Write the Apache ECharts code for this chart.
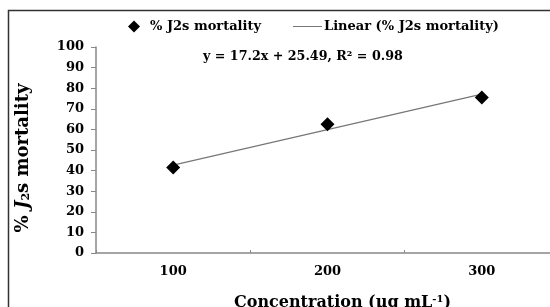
<!DOCTYPE html>
<html><head><meta charset="utf-8">
<script src="https://cdn.jsdelivr.net/npm/echarts@6/dist/echarts.min.js"></script>
<style>html,body{margin:0;padding:0;background:#fff}#c{width:550px;height:307px}</style>
</head><body><div id="c"></div>
<script>
var categories = ['100', '200', '300'];
var mortality = [41.5, 62.5, 75.5];
var trendValues = [42.69, 59.89, 77.09];
var yTicks = {min: 0, max: 100, interval: 10};
var equationText = 'y = 17.2x + 25.49, R² = 0.98';

var serif = '"DejaVu Serif", "Liberation Serif", serif';
var chart = echarts.init(document.getElementById('c'));
chart.setOption({
  animation: false,
  backgroundColor: '#fff',
  textStyle: {fontFamily: serif},
  grid: {left: 96, top: 47, width: 463, height: 206, containLabel: false, outerBoundsMode: 'none'},
  legend: [
    {
      left: 123, top: 15, itemWidth: 12, itemHeight: 12,
      textStyle: {fontFamily: serif, fontWeight: 'bold', fontSize: 13, color: '#000', padding: [0, 0, 0, 5]},
      data: [{name: '% J2s mortality', icon: 'diamond', itemStyle: {color: '#000', opacity: 1}}]
    },
    {
      left: 288, top: 15, itemWidth: 29, itemHeight: 1,
      textStyle: {fontFamily: serif, fontWeight: 'bold', fontSize: 13, color: '#000', padding: [0, 0, 0, -3]},
      data: [{name: 'Linear (% J2s mortality)', icon: 'rect'}]
    }
  ],
  xAxis: {
    type: 'category', data: categories, boundaryGap: true,
    axisLine: {lineStyle: {color: '#888', width: 1.5}},
    axisTick: {show: true, inside: true, length: 3, lineStyle: {color: '#888'}},
    axisLabel: {margin: 12, fontFamily: serif, fontWeight: 'bold', fontSize: 13, color: '#000'},
    name: '{a|Concentration (µg mL}{s|-1}{a|)}',
    nameLocation: 'middle', nameGap: 41,
    nameTextStyle: {
      padding: [0, 0, 0, 30],
      rich: {
        a: {fontFamily: serif, fontWeight: 'bold', fontSize: 16, color: '#000'},
        s: {fontFamily: serif, fontWeight: 'bold', fontSize: 10, color: '#000', verticalAlign: 'top', padding: [0, 0, 8, 0]}
      }
    }
  },
  yAxis: {
    type: 'value', min: yTicks.min, max: yTicks.max, interval: yTicks.interval,
    splitLine: {show: false},
    axisLine: {show: true, lineStyle: {color: '#888', width: 1.5}},
    axisTick: {show: true, length: 5, lineStyle: {color: '#888'}},
    axisLabel: {margin: 12, fontFamily: serif, fontWeight: 'bold', fontSize: 13, color: '#000'},
    name: '{a|% }{i|J}{s|2}{a|s mortality}',
    nameLocation: 'middle', nameRotate: 90, nameGap: 64,
    nameTextStyle: {
      padding: [0, 16, 0, 0],
      rich: {
        a: {fontFamily: serif, fontWeight: 'bold', fontSize: 18, color: '#000'},
        i: {fontFamily: serif, fontWeight: 'bold', fontStyle: 'italic', fontSize: 18, color: '#000'},
        s: {fontFamily: serif, fontWeight: 'bold', fontSize: 11, color: '#000', verticalAlign: 'bottom', padding: [6, 0, 0, 0]}
      }
    }
  },
  series: [
    {
      name: '% J2s mortality', type: 'scatter', data: mortality,
      symbol: 'diamond', symbolSize: 14, itemStyle: {color: '#000', opacity: 1}, z: 3
    },
    {
      name: 'Linear (% J2s mortality)', type: 'line', data: trendValues,
      symbol: 'none', lineStyle: {color: '#777', width: 1.2}, itemStyle: {color: '#777'}
    }
  ],
  graphic: [
    {type: 'rect', shape: {x: 8.5, y: 10.5, width: 620, height: 320},
     style: {fill: 'none', stroke: '#333', lineWidth: 1.5}, silent: true, z: -10},
    {type: 'text', left: 203, top: 50,
     style: {text: equationText, font: 'bold 12.7px ' + serif, fill: '#000'}}
  ]
});
</script></body></html>
